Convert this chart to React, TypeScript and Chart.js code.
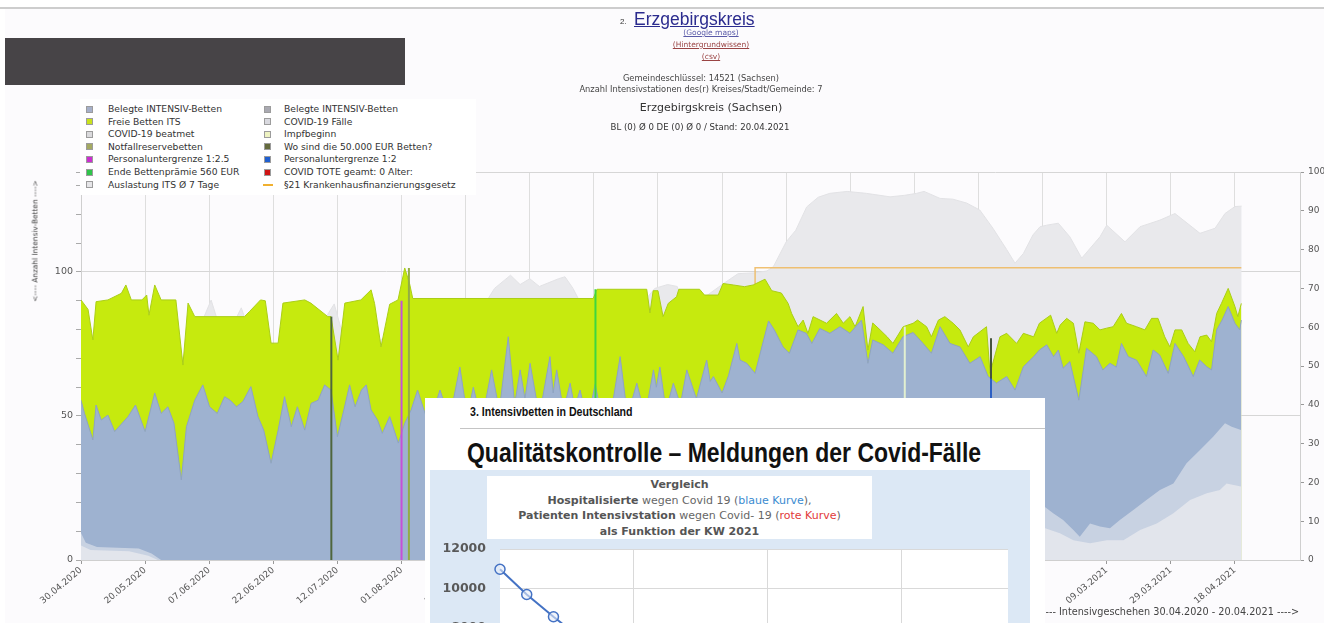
import React, { useEffect, useRef } from "react";
import { Chart, registerables } from "chart.js";
Chart.register(...registerables);

// ---------- main chart data (x = day index since 30.04.2020, one tick label every 20 days) ----------
const xTickLabels = [
  "30.04.2020", "20.05.2020", "07.06.2020", "22.06.2020", "12.07.2020", "01.08.2020",
  "21.08.2020", "10.09.2020", "30.09.2020", "20.10.2020", "09.11.2020", "29.11.2020",
  "19.12.2020", "08.01.2021", "28.01.2021", "17.02.2021", "09.03.2021", "29.03.2021", "18.04.2021",
];

// total ITS beds (belegt + frei), left axis
const gesamtBetten: number[][] = [
  [0,90.3],[2.2,87],[3.7,76.4],[4.7,89.7],[8.4,90.3],[12.6,92.6],[14,95.5],[15.7,90.3],[19,90.3],[20.5,92],[21.2,85],[23,95.5],[25,90.3],[29.6,90.3],[31.8,67.7],[33.4,89.2],[35.5,84.5],[51,84.5],[52.5,86.2],[56,90.3],[57.5,90],[59.3,75.3],[61.5,75.3],[63,89.2],[69.8,90.3],[71.7,89.2],[77,84.5],[78,84.5],[80.2,69.4],[82.3,89.2],[87.3,90.3],[90.5,93.8],[91.6,89],[93.6,74],[96.3,88.8],[98.9,90.3],[101,101.4],[102.5,96],[103.5,90.8],[159.8,90.8],[161,94],[176.5,94],[177.5,85.8],[178.5,93.5],[180,93.5],[181.6,84.5],[183.2,89.1],[185.8,91.4],[186.5,94],[193,94],[194.5,92],[198.8,92],[200.3,96],[203.5,95.5],[207,94.9],[209.7,95.5],[213.4,97.5],[215.5,93.5],[218.5,92.7],[220.6,89.1],[221.7,85.6],[223.7,81],[225.3,83.3],[226.8,78.7],[228.4,84.5],[232.6,82.2],[235.7,85.6],[237.8,82.2],[239.9,84.5],[241.5,81],[244,88],[245.5,72.9],[247,82.3],[249.3,79.9],[251.5,77.5],[253.3,75.2],[256.5,81],[259.6,82.2],[261,83.3],[263.8,81],[265.3,77.5],[267.5,83.3],[269.5,84.5],[272.1,82.2],[274.2,79.9],[276.8,74],[278.4,77.5],[282.5,81],[283.6,64.8],[286.7,77.5],[288.8,78.7],[291.9,75.2],[294,78.7],[297.2,77.5],[299,82.2],[302.5,85],[304.4,78.7],[305.5,81.6],[307.5,83.9],[309.6,82.2],[311.3,71.8],[313.2,82.7],[315.8,82.2],[317.9,79.9],[320,80.5],[322,81],[324.6,85.6],[326.2,82.2],[329.3,81],[331.9,79.9],[334,83.9],[336,83.9],[338.1,77.5],[339.7,74],[341.3,79.9],[343.4,79.9],[345.4,75.2],[347.5,72.3],[349.1,77.5],[351.2,78.1],[352.7,75.8],[354.3,85.6],[355.8,89.1],[357.9,94.3],[360,88],[360.9,84.5],[362,89.1],
];

// occupied ITS beds, left axis
const belegteBetten: number[][] = [
  [0,55.5],[1.1,50.9],[3.7,41.7],[4.7,53.8],[6.3,48.6],[8.4,50.3],[10.5,44.6],[14.7,49.8],[17,53.8],[20,44.6],[23,58],[25,50.9],[27.1,53.2],[29,47.5],[31.3,27.8],[32.9,46.3],[35.5,55.5],[38,60.8],[40.1,53.2],[42.5,50.9],[44.8,56.7],[46.5,55.5],[48.5,53.2],[50.5,55],[53,60.2],[55.2,49.8],[57,45.1],[59.3,33.6],[61.5,45.1],[63.5,56.7],[65.6,46.3],[67.5,53.2],[69.8,45.1],[71.8,54.4],[74,55.5],[76,60.8],[78,59],[80,42.8],[82,52.1],[83.8,60.8],[85.5,53.2],[87.5,59],[89,60.8],[90.5,52.1],[92.5,48.6],[94,44],[96.3,49.8],[99,40.6],[101,47.5],[103,52.1],[105,59],[108.5,47],[112,59],[115,49],[118.2,67],[120.5,50],[122.4,60],[125,48],[128.1,66],[130.5,52],[133.3,77.5],[135.3,54],[137,66],[138.5,56],[140.1,68.3],[143,50],[146.3,70.6],[147.3,58],[148.4,66],[150.5,52],[152.6,61.4],[154,53],[155.7,59],[158,48],[160.4,61],[163,47],[165.5,52],[168.2,70.6],[170.5,50],[173.4,61.4],[176,50],[178.6,66],[179.5,60],[180.6,67],[182.5,52],[184.8,61.4],[187,54],[189,66],[192,56],[195.2,69.4],[196.3,62],[197.3,63.7],[200,58],[202,64],[204.6,75.2],[205.6,69.4],[207.7,68.3],[210.3,64.8],[211.9,71.8],[214.5,83],[216.3,79.9],[219,74],[221,71.8],[223.7,79.9],[226.3,78.7],[228,75.2],[230.5,80.4],[233.6,78.7],[236.8,81],[239.9,78.7],[243.5,83.3],[245.5,68.3],[247,76.4],[250.3,74.7],[253.3,71.8],[256.4,77.5],[259.6,79],[262.7,75.2],[265.3,71.8],[268,81],[271.1,75.2],[274.2,74],[277.3,68.3],[280.5,70.6],[283,63.7],[285.6,61.4],[288.8,63.7],[291.4,59],[294,67.1],[297.2,70.6],[299,72.9],[301.3,74.7],[303.4,70.6],[304.9,72.9],[306.4,66.6],[308.5,68.9],[311.3,55.5],[313.7,73.5],[316.8,70.6],[318.8,66],[321,68.3],[323,67],[324.6,75.2],[326.7,70.6],[329.3,69.4],[332.4,63.7],[334.5,72.9],[336.5,71.2],[339.2,64.8],[341.3,75.2],[344,70.6],[347,63.7],[349,69.4],[351.2,67.1],[352.7,66],[354.3,79.9],[356,83.3],[357.9,88],[360,82.2],[361.5,79.9],[362,83.3],
];

// ITS occupancy 7-day average (%), right axis
const auslastungITS: number[][] = [
  [0,55],[10,56],[20,55],[30,50],[36,58],[40.6,67],[44,58],[47,60],[50,65],[53,58],[62,55],[70,58],[76,62],[79,66],[81,60],[90,55],[100,60],[110,62],[120,64],[126,66],[129,70],[134,73.4],[137,71],[140,72.5],[143,70.5],[146,71.5],[149,72.5],[151,73],[153.5,70],[156,66],[165,65],[175,66],[179,70],[183,71],[186,70.5],[188,66],[195,68],[200,71],[205,73.8],[210,74],[214,74.5],[216,75.6],[220,82],[223,85],[226.4,91],[230,93.5],[233.6,94.5],[239,95],[245,94.5],[252.4,93.6],[257,94],[260.7,94.5],[263,95],[268,93.2],[272,93],[276.3,92],[280.4,90.2],[284.5,85.5],[288.8,80],[291.4,76.5],[294,79],[297,83.8],[299.2,85.9],[301.3,86.3],[304.9,86.8],[308.5,83.3],[312.2,77.8],[317.9,83.3],[320,86.3],[325.7,82],[330.4,85.9],[336.6,87.6],[341.3,89.3],[343.9,87.6],[349.1,84.2],[353.8,85.5],[356.9,89.3],[360,91.1],[362.1,91.2],
];

// COVID-19 ITS cases, left axis
const covidFaelle: number[][] = [
  [0,9.4],[1.5,6],[5,4.5],[18,4],[22,2.3],[25,0],[165,0],[180,1.5],[195,3],[210,6],[222,12],[235,22],[248,32],[260,38],[272,40],[282,36],[292,28],[299.2,19.7],[303.3,16.2],[306.4,13.9],[309.6,10.4],[311.6,8.1],[314.8,12.7],[317.9,11.6],[321,11],[324.1,13.9],[328.3,17.4],[332.4,20.8],[336.6,24.3],[340.8,26.6],[344.9,33.6],[349.1,38.2],[353.2,42.8],[356.9,47.5],[359,46.3],[361.9,45.1],
];

// COVID-19 ventilated, left axis
const covidBeatmet: number[][] = [
  [0,5],[3,3.5],[15,3],[21,1.5],[24,0],[170,0],[190,1],[210,3],[230,9],[250,16],[270,20],[285,18],[295,14],[299.2,11.6],[305.4,9.3],[309.6,6.9],[314.8,5.8],[320,6.9],[325.2,6.9],[330.4,10.4],[335.6,12.7],[340.8,16.2],[346,20.8],[351.2,23.2],[355.3,24.3],[357.4,26.6],[361.9,25.5],
];

// §21 Krankenhausfinanzierungsgesetz marker, right axis
const krankenhausGesetz21: number[][] = [[210.3, 71], [210.3, 75.3], [362, 75.3]];

// vertical event markers (day index, height on left axis)
const eventNamen = [
  "Wo sind die 50.000 EUR Betten?", "Personaluntergrenze 1:2.5", "Notfallreservebetten",
  "Ende Bettenprämie 560 EUR", "Impfbeginn", "Wo sind die 50.000 EUR Betten?", "Personaluntergrenze 1:2",
];
const eventTage = [78.1, 100, 102.3, 160.5, 257, 283.9, 283.9];
const eventHoehen = [84.5, 90, 101.4, 94, 81, 77, 63];

// ---------- inset chart data ----------
const kwWochen = [1, 2, 3, 4];
const hospitalisierte = [10970, 9690, 8560, 7500];
const kwGitter = [6, 11, 16];

const pts = (arr: number[][]) => arr.map(([x, y]) => ({ x, y }));

const legendLeft = [
  { t: "Belegte INTENSIV-Betten", c: "#a6b0c9" },
  { t: "Freie Betten ITS", c: "#c9e21c" },
  { t: "COVID-19 beatmet", c: "#dadadc" },
  { t: "Notfallreservebetten", c: "#a4aa62" },
  { t: "Personaluntergrenze 1:2.5", c: "#cc2fd0" },
  { t: "Ende Bettenprämie 560 EUR", c: "#2fc54a" },
  { t: "Auslastung ITS Ø 7 Tage", c: "#e6e6e8" },
];
const legendRight = [
  { t: "Belegte INTENSIV-Betten", c: "#a9a9b1" },
  { t: "COVID-19 Fälle", c: "#d9d9df" },
  { t: "Impfbeginn", c: "#eef3c2" },
  { t: "Wo sind die 50.000 EUR Betten?", c: "#656b3d" },
  { t: "Personaluntergrenze 1:2", c: "#1f5fd0" },
  { t: "COVID TOTE geamt: 0 Alter:", c: "#cf1414" },
  { t: "§21 Krankenhausfinanzierungsgesetz", c: "#f0b030", line: true },
];

const FONT = "'DejaVu Sans', sans-serif";
const NARROW = "'Liberation Sans', Arial, sans-serif";

export default function App() {
  const mainRef = useRef<HTMLCanvasElement>(null);
  const insetRef = useRef<HTMLCanvasElement>(null);

  useEffect(() => {
    const eventColors = ["#4f663d", "#c650d8", "#93ad45", "#3ed640", "#e2efd0", "#45543e", "#2c5fc4"];
    const eventDatasets = eventTage.map((d, i) => ({
      label: eventNamen[i],
      data: [{ x: d, y: 0 }, { x: d, y: eventHoehen[i] }],
      borderColor: eventColors[i],
      borderWidth: 2,
      pointRadius: 0,
      fill: false,
      yAxisID: "y",
      order: i === 6 ? 0 : 1,
    }));
    const main = new Chart(mainRef.current!, {
      type: "line",
      data: {
        datasets: [
          ...eventDatasets,
          { label: "COVID-19 beatmet", data: pts(covidBeatmet), backgroundColor: "rgba(236,236,240,0.72)", borderWidth: 0, pointRadius: 0, fill: "origin", yAxisID: "y", order: 2 },
          { label: "COVID-19 Fälle", data: pts(covidFaelle), backgroundColor: "rgba(226,229,237,0.62)", borderWidth: 0, pointRadius: 0, fill: "origin", yAxisID: "y", order: 3 },
          { label: "Belegte INTENSIV-Betten", data: pts(belegteBetten), backgroundColor: "rgb(158,178,208)", borderColor: "rgb(142,163,197)", borderWidth: 1, pointRadius: 0, fill: "origin", yAxisID: "y", order: 4 },
          { label: "Freie Betten ITS", data: pts(gesamtBetten), backgroundColor: "rgb(198,234,14)", borderColor: "rgb(170,206,22)", borderWidth: 1, pointRadius: 0, fill: "origin", yAxisID: "y", order: 5 },
          { label: "§21 Krankenhausfinanzierungsgesetz", data: pts(krankenhausGesetz21), borderColor: "rgba(238,186,100,0.9)", borderWidth: 1.5, pointRadius: 0, fill: false, yAxisID: "y2", order: 6 },
          { label: "Auslastung ITS Ø 7 Tage", data: pts(auslastungITS), backgroundColor: "rgb(233,233,236)", borderColor: "rgb(226,226,229)", borderWidth: 1, pointRadius: 0, fill: "origin", yAxisID: "y2", order: 7 },
        ] as any,
      },
      options: {
        animation: false,
        responsive: false,
        events: [],
        layout: { padding: { top: 172, left: 0, right: 0, bottom: 0 } },
        elements: { line: { tension: 0 } },
        plugins: { legend: { display: false }, tooltip: { enabled: false } },
        scales: {
          x: {
            type: "linear",
            min: 0,
            max: 380.3,
            afterBuildTicks: (s: any) => { s.ticks = xTickLabels.map((_, i) => ({ value: i * 20 })); },
            afterFit: (s: any) => { s.height = 63; },
            ticks: {
              autoSkip: false,
              minRotation: 40,
              maxRotation: 40,
              padding: 1,
              color: "#555",
              font: { family: FONT, size: 9 },
              callback: (v: any) => xTickLabels[Math.round(Number(v) / 20)] ?? "",
            },
            grid: { color: "#dedede", tickColor: "#999", tickLength: 4 },
            border: { color: "#cfcfcf" },
          },
          y: {
            position: "left",
            min: 0,
            max: 134.72,
            afterFit: (s: any) => { s.width = 81; },
            ticks: {
              stepSize: 10,
              autoSkip: false,
              padding: 3,
              color: "#555",
              font: { family: FONT, size: 9.5 },
              callback: (v: any) => (v === 0 || v === 50 || v === 100 ? String(v) : ""),
            },
            grid: {
              color: (c: any) => {
                const v = c.tick ? c.tick.value : -1;
                return v === 50 || v === 100 || v > 134 ? "#d6d6d6" : "rgba(0,0,0,0)";
              },
              tickColor: "#aaa",
              tickLength: 5,
            },
            border: { color: "#cfcfcf" },
          },
          y2: {
            position: "right",
            min: 0,
            max: 100,
            afterFit: (s: any) => { s.width = 24; },
            ticks: { stepSize: 10, padding: 4, color: "#555", font: { family: FONT, size: 9 } },
            grid: { drawOnChartArea: false, tickColor: "#999", tickLength: 4 },
            border: { color: "#cfcfcf" },
          },
        },
      } as any,
    });

    const whitePlot = {
      id: "whitePlot",
      beforeDraw(chart: any) {
        const { ctx, chartArea } = chart;
        ctx.save();
        ctx.fillStyle = "#ffffff";
        ctx.fillRect(chartArea.left, chartArea.top, chartArea.right - chartArea.left, chartArea.bottom - chartArea.top);
        ctx.restore();
      },
    };
    const inset = new Chart(insetRef.current!, {
      type: "line",
      data: {
        datasets: [
          {
            label: "Hospitalisierte",
            data: kwWochen.map((k, i) => ({ x: k, y: hospitalisierte[i] })),
            borderColor: "#4472c4",
            borderWidth: 2,
            pointRadius: 5,
            pointBorderWidth: 1.5,
            pointBackgroundColor: "rgba(230,236,248,0.6)",
            pointBorderColor: "#4472c4",
            fill: false,
            clip: false,
          },
        ] as any,
      },
      options: {
        animation: false,
        responsive: false,
        events: [],
        layout: { padding: { top: 79, right: 22, left: 0, bottom: 0 } },
        plugins: { legend: { display: false }, tooltip: { enabled: false } },
        scales: {
          x: {
            type: "linear",
            min: 1,
            max: 20,
            afterBuildTicks: (s: any) => { s.ticks = kwGitter.map((v) => ({ value: v })); },
            afterFit: (s: any) => { s.height = 0; },
            ticks: { display: false },
            grid: { color: "#d9d9d9", drawTicks: false },
            border: { display: false },
          },
          y: {
            min: 0,
            max: 12000,
            afterFit: (s: any) => { s.width = 70; },
            ticks: {
              stepSize: 2000,
              padding: 14,
              color: "#595959",
              font: { family: FONT, size: 12.5, weight: "bold" },
              callback: (v: any) => String(v),
            },
            grid: { color: "#d9d9d9", drawTicks: false },
            border: { display: false },
          },
        },
      } as any,
      plugins: [whitePlot],
    });

    return () => {
      main.destroy();
      inset.destroy();
    };
  }, []);

  const centered = (cx: number, top: number, style: any, text: any) => (
    <div style={{ position: "absolute", left: cx - 300, width: 600, top, textAlign: "center", whiteSpace: "nowrap", ...style }}>{text}</div>
  );

  return (
    <div style={{ position: "fixed", left: 0, top: 0, width: 1324, height: 623, overflow: "hidden", background: "#fcfbfd", fontFamily: FONT }}>
      <div style={{ position: "absolute", left: 0, top: 0, width: 1324, height: 7, background: "#ffffff" }} />
      <div style={{ position: "absolute", left: 0, top: 7, width: 1324, height: 2, background: "#cdcdcd" }} />
      <div style={{ position: "absolute", left: 0, top: 9, width: 5, height: 614, background: "#ffffff" }} />
      <canvas ref={mainRef} width={1324} height={623} style={{ position: "absolute", left: 0, top: 0 }} />

      {/* redaction box */}
      <div style={{ position: "absolute", left: 5, top: 38, width: 400, height: 47, background: "#474447" }} />

      {/* header */}
      <div style={{ position: "absolute", left: 620, top: 17, fontSize: 8, color: "#333", fontFamily: NARROW }}>2.</div>
      <div style={{ position: "absolute", left: 634, top: 9, fontSize: 17.5, lineHeight: "21px", color: "#2b2b8e", textDecoration: "underline", fontFamily: NARROW }}>Erzgebirgskreis</div>
      {centered(711, 28, { fontSize: 7.5, color: "#5a5aa8", textDecoration: "underline", lineHeight: "10px" }, "(Google maps)")}
      {centered(711, 40, { fontSize: 7.5, color: "#9a4444", textDecoration: "underline", lineHeight: "10px" }, "(Hintergrundwissen)")}
      {centered(711, 52, { fontSize: 7.5, color: "#9a4444", textDecoration: "underline", lineHeight: "10px" }, "(csv)")}
      {centered(701, 73, { fontSize: 8.3, color: "#444", lineHeight: "10px" }, "Gemeindeschlüssel: 14521 (Sachsen)")}
      {centered(701, 84, { fontSize: 8.3, color: "#444", lineHeight: "10px" }, "Anzahl Intensivstationen des(r) Kreises/Stadt/Gemeinde: 7")}
      {centered(711, 101, { fontSize: 11, color: "#333", lineHeight: "14px" }, "Erzgebirgskreis (Sachsen)")}
      {centered(700, 122, { fontSize: 8.6, color: "#333", lineHeight: "11px" }, "BL (0) Ø 0 DE (0) Ø 0 / Stand: 20.04.2021")}

      {/* legend */}
      <div style={{ position: "absolute", left: 80, top: 99, width: 396, height: 96, background: "#ffffff" }} />
      {[legendLeft, legendRight].map((col, ci) =>
        col.map((it: any, ri) => {
          const cy = 109 + ri * 12.6;
          const bx = ci === 0 ? 86 : 264;
          const tx = ci === 0 ? 108 : 284;
          return (
            <React.Fragment key={ci + "-" + ri}>
              {it.line ? (
                <div style={{ position: "absolute", left: bx - 1, top: cy - 1, width: 10, height: 2.5, background: it.c }} />
              ) : (
                <div style={{ position: "absolute", left: bx, top: cy - 3.5, width: 7, height: 7, background: it.c, boxSizing: "border-box", border: "1px solid #9c9c9c" }} />
              )}
              <div style={{ position: "absolute", left: tx, top: cy - 6, lineHeight: "12px", fontSize: 9.2, color: "#333", whiteSpace: "nowrap" }}>{it.t}</div>
            </React.Fragment>
          );
        })
      )}

      {/* axis titles */}
      <div style={{ position: "absolute", left: 35, top: 241, transform: "translate(-50%,-50%) rotate(-90deg)", fontSize: 7.4, color: "#444", whiteSpace: "nowrap" }}>{"<---- Anzahl Intensiv-Betten ---->"}</div>
      <div style={{ position: "absolute", right: 1324 - 1299, top: 606, fontSize: 9.7, lineHeight: "12px", color: "#444", whiteSpace: "nowrap" }}>{"<---- Intensivgeschehen 30.04.2020 - 20.04.2021 ---->"}</div>

      {/* inset slide */}
      <div style={{ position: "absolute", left: 425, top: 398, width: 620, height: 230, background: "#ffffff" }} />
      <div style={{ position: "absolute", left: 470, top: 404, fontSize: 13, lineHeight: "16px", fontWeight: "bold", color: "#111", fontFamily: NARROW, whiteSpace: "nowrap", transform: "scaleX(0.815)", transformOrigin: "0 0" }}>3. Intensivbetten in Deutschland</div>
      <div style={{ position: "absolute", left: 460, top: 428, width: 585, height: 1, background: "#c4c4c4" }} />
      <div style={{ position: "absolute", left: 467, top: 436, fontSize: 28, lineHeight: "34px", fontWeight: "bold", color: "#111", fontFamily: NARROW, whiteSpace: "nowrap", transform: "scaleX(0.82)", transformOrigin: "0 0" }}>Qualitätskontrolle – Meldungen der Covid-Fälle</div>
      <div style={{ position: "absolute", left: 430, top: 470, width: 600, height: 160, background: "#dce8f5" }} />
      <canvas ref={insetRef} width={600} height={337} style={{ position: "absolute", left: 430, top: 470 }} />
      <div style={{ position: "absolute", left: 487, top: 476, width: 385, height: 63, background: "#ffffff" }} />
      <div style={{ position: "absolute", left: 487, top: 477, width: 385, textAlign: "center", fontSize: 11, lineHeight: "15.5px", color: "#666", whiteSpace: "nowrap" }}>
        <div style={{ fontWeight: "bold", color: "#555" }}>Vergleich</div>
        <div><b style={{ color: "#555" }}>Hospitalisierte</b> wegen Covid 19 (<span style={{ color: "#3b8bd0" }}>blaue Kurve</span>),</div>
        <div><b style={{ color: "#555" }}>Patienten Intensivstation</b> wegen Covid- 19 (<span style={{ color: "#e23a3a" }}>rote Kurve</span>)</div>
        <div style={{ fontWeight: "bold", color: "#555" }}>als Funktion der KW 2021</div>
      </div>
    </div>
  );
}
